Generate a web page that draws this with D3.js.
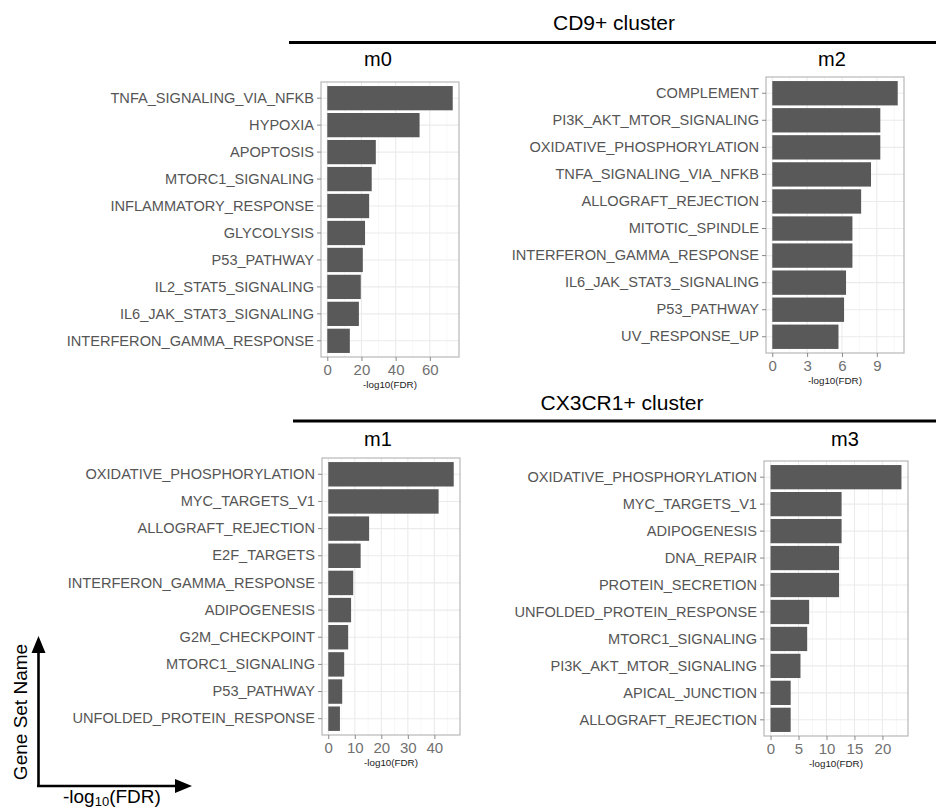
<!DOCTYPE html>
<html>
<head>
<meta charset="utf-8">
<script src="https://cdn.jsdelivr.net/npm/d3@7"></script>
<style>
  html, body { margin: 0; padding: 0; background: #fff; }
  svg { display: block; font-family: "Liberation Sans", Arial, sans-serif; }
</style>
</head>
<body>
<svg id="chart" width="936" height="810"></svg>
<script>
// ---------------- DATA ----------------
const m0Terms = ["TNFA_SIGNALING_VIA_NFKB","HYPOXIA","APOPTOSIS","MTORC1_SIGNALING","INFLAMMATORY_RESPONSE","GLYCOLYSIS","P53_PATHWAY","IL2_STAT5_SIGNALING","IL6_JAK_STAT3_SIGNALING","INTERFERON_GAMMA_RESPONSE"];
const m0Values = [73.4, 54.0, 28.4, 26.0, 24.5, 22.1, 20.8, 19.6, 18.5, 13.2];
const m0Ticks = [0, 20, 40, 60];

const m2Terms = ["COMPLEMENT","PI3K_AKT_MTOR_SIGNALING","OXIDATIVE_PHOSPHORYLATION","TNFA_SIGNALING_VIA_NFKB","ALLOGRAFT_REJECTION","MITOTIC_SPINDLE","INTERFERON_GAMMA_RESPONSE","IL6_JAK_STAT3_SIGNALING","P53_PATHWAY","UV_RESPONSE_UP"];
const m2Values = [10.8, 9.3, 9.3, 8.5, 7.65, 6.9, 6.9, 6.35, 6.18, 5.7];
const m2Ticks = [0, 3, 6, 9];

const m1Terms = ["OXIDATIVE_PHOSPHORYLATION","MYC_TARGETS_V1","ALLOGRAFT_REJECTION","E2F_TARGETS","INTERFERON_GAMMA_RESPONSE","ADIPOGENESIS","G2M_CHECKPOINT","MTORC1_SIGNALING","P53_PATHWAY","UNFOLDED_PROTEIN_RESPONSE"];
const m1Values = [47.3, 41.6, 15.4, 12.2, 9.4, 8.6, 7.5, 6.0, 5.25, 4.4];
const m1Ticks = [0, 10, 20, 30, 40];

const m3Terms = ["OXIDATIVE_PHOSPHORYLATION","MYC_TARGETS_V1","ADIPOGENESIS","DNA_REPAIR","PROTEIN_SECRETION","UNFOLDED_PROTEIN_RESPONSE","MTORC1_SIGNALING","PI3K_AKT_MTOR_SIGNALING","APICAL_JUNCTION","ALLOGRAFT_REJECTION"];
const m3Values = [23.4, 12.7, 12.7, 12.25, 12.25, 6.9, 6.55, 5.35, 3.6, 3.6];
const m3Ticks = [0, 5, 10, 15, 20];

const clusterTitles = ["CD9+ cluster", "CX3CR1+ cluster"];
const panelTitles = ["m0", "m2", "m1", "m3"];
const axisTitle = "-log10(FDR)";

// ---------------- LAYOUT ----------------
const panels = [
  { terms: m0Terms, values: m0Values, ticks: m0Ticks, title: panelTitles[0], x0: 321, x1: 459, y0: 82,  y1: 357, tx: 378, ty: 66 },
  { terms: m2Terms, values: m2Values, ticks: m2Ticks, title: panelTitles[1], x0: 766, x1: 904, y0: 77,  y1: 353, tx: 832, ty: 66 },
  { terms: m1Terms, values: m1Values, ticks: m1Ticks, title: panelTitles[2], x0: 322, x1: 460, y0: 458, y1: 735, tx: 378, ty: 446 },
  { terms: m3Terms, values: m3Values, ticks: m3Ticks, title: panelTitles[3], x0: 764, x1: 908, y0: 461, y1: 736, tx: 845, ty: 446 }
];

const svg = d3.select("#chart");

// Cluster headers
const headers = [
  { text: clusterTitles[0], x: 614, y: 30, lx0: 289, ly: 42.5 },
  { text: clusterTitles[1], x: 622, y: 410, lx0: 293, ly: 421 }
];
headers.forEach(h => {
  svg.append("text").attr("x", h.x).attr("y", h.y).attr("text-anchor", "middle")
    .attr("font-size", 21).attr("fill", "#000").text(h.text);
  svg.append("line").attr("x1", h.lx0).attr("x2", 936).attr("y1", h.ly).attr("y2", h.ly)
    .attr("stroke", "#000").attr("stroke-width", 3.2);
});

panels.forEach(p => {
  const maxV = d3.max(p.values);
  const x = d3.scaleLinear().domain([-0.05 * maxV, 1.05 * maxV]).range([p.x0, p.x1]);
  const y = d3.scaleBand().domain(p.terms).range([p.y0, p.y1]).paddingInner(0.1).paddingOuter(0.15);
  const g = svg.append("g");

  g.append("rect").attr("x", p.x0).attr("y", p.y0).attr("width", p.x1 - p.x0).attr("height", p.y1 - p.y0)
    .attr("fill", "#fff");

  // minor gridlines
  const step = p.ticks[1] - p.ticks[0];
  const minor = [];
  for (let i = 0; i < p.ticks.length; i++) {
    const m = p.ticks[i] + step / 2;
    if (x(m) < p.x1) minor.push(m);
  }
  g.selectAll(".minor").data(minor).enter().append("line")
    .attr("x1", d => x(d)).attr("x2", d => x(d)).attr("y1", p.y0).attr("y2", p.y1)
    .attr("stroke", "#f2f2f2").attr("stroke-width", 0.6);
  g.selectAll(".majv").data(p.ticks).enter().append("line")
    .attr("x1", d => x(d)).attr("x2", d => x(d)).attr("y1", p.y0).attr("y2", p.y1)
    .attr("stroke", "#ebebeb").attr("stroke-width", 1.1);
  g.selectAll(".majh").data(p.terms).enter().append("line")
    .attr("x1", p.x0).attr("x2", p.x1)
    .attr("y1", d => y(d) + y.bandwidth() / 2).attr("y2", d => y(d) + y.bandwidth() / 2)
    .attr("stroke", "#ebebeb").attr("stroke-width", 1.1);

  // bars
  g.selectAll(".bar").data(p.terms).enter().append("rect")
    .attr("x", x(0)).attr("y", d => y(d))
    .attr("width", (d, i) => x(p.values[i]) - x(0))
    .attr("height", y.bandwidth())
    .attr("fill", "#595959");

  g.append("rect").attr("x", p.x0).attr("y", p.y0).attr("width", p.x1 - p.x0).attr("height", p.y1 - p.y0)
    .attr("fill", "none").attr("stroke", "#b8b8b8").attr("stroke-width", 1.2);

  // y axis
  const yAxis = d3.axisLeft(y).tickSize(4).tickPadding(3);
  const ya = g.append("g").attr("transform", `translate(${p.x0},0)`).call(yAxis);
  ya.select(".domain").remove();
  ya.selectAll(".tick line").attr("stroke", "#888");
  ya.selectAll(".tick text").attr("font-size", 14.6).attr("fill", "#555")
    .attr("font-family", "'Liberation Sans', Arial, sans-serif");

  // x axis
  const xAxis = d3.axisBottom(x).tickValues(p.ticks).tickSize(4).tickPadding(3).tickFormat(d3.format("d"));
  const xa = g.append("g").attr("transform", `translate(0,${p.y1})`).call(xAxis);
  xa.select(".domain").remove();
  xa.selectAll(".tick line").attr("stroke", "#888");
  xa.selectAll(".tick text").attr("font-size", 15).attr("fill", "#707070")
    .attr("font-family", "'Liberation Sans', Arial, sans-serif");

  g.append("text").attr("x", (p.x0 + p.x1) / 2).attr("y", p.y1 + 31)
    .attr("text-anchor", "middle").attr("font-size", 9.8).attr("fill", "#222").text(axisTitle);

  g.append("text").attr("x", p.tx).attr("y", p.ty).attr("text-anchor", "middle")
    .attr("font-size", 20).attr("fill", "#000").text(p.title);
});

// Bottom-left guide arrows
const ag = svg.append("g");
ag.append("line").attr("x1", 38.5).attr("x2", 38.5).attr("y1", 786).attr("y2", 650)
  .attr("stroke", "#000").attr("stroke-width", 2.6);
ag.append("line").attr("x1", 37).attr("x2", 178).attr("y1", 786).attr("y2", 786)
  .attr("stroke", "#000").attr("stroke-width", 2.6);
ag.append("path").attr("d", "M38.5,636 L31.5,653 L45.5,653 Z").attr("fill", "#000");
ag.append("path").attr("d", "M192,786 L175,779 L175,793 Z").attr("fill", "#000");
ag.append("text").attr("transform", "translate(27,712) rotate(-90)").attr("text-anchor", "middle")
  .attr("font-size", 19).attr("fill", "#000").text("Gene Set Name");
const lt = ag.append("text").attr("x", 63).attr("y", 803).attr("font-size", 19).attr("fill", "#000");
lt.append("tspan").text("-log");
lt.append("tspan").attr("font-size", 13).attr("dy", 3).text("10");
lt.append("tspan").attr("dy", -3).text("(FDR)");
</script>
</body>
</html>
